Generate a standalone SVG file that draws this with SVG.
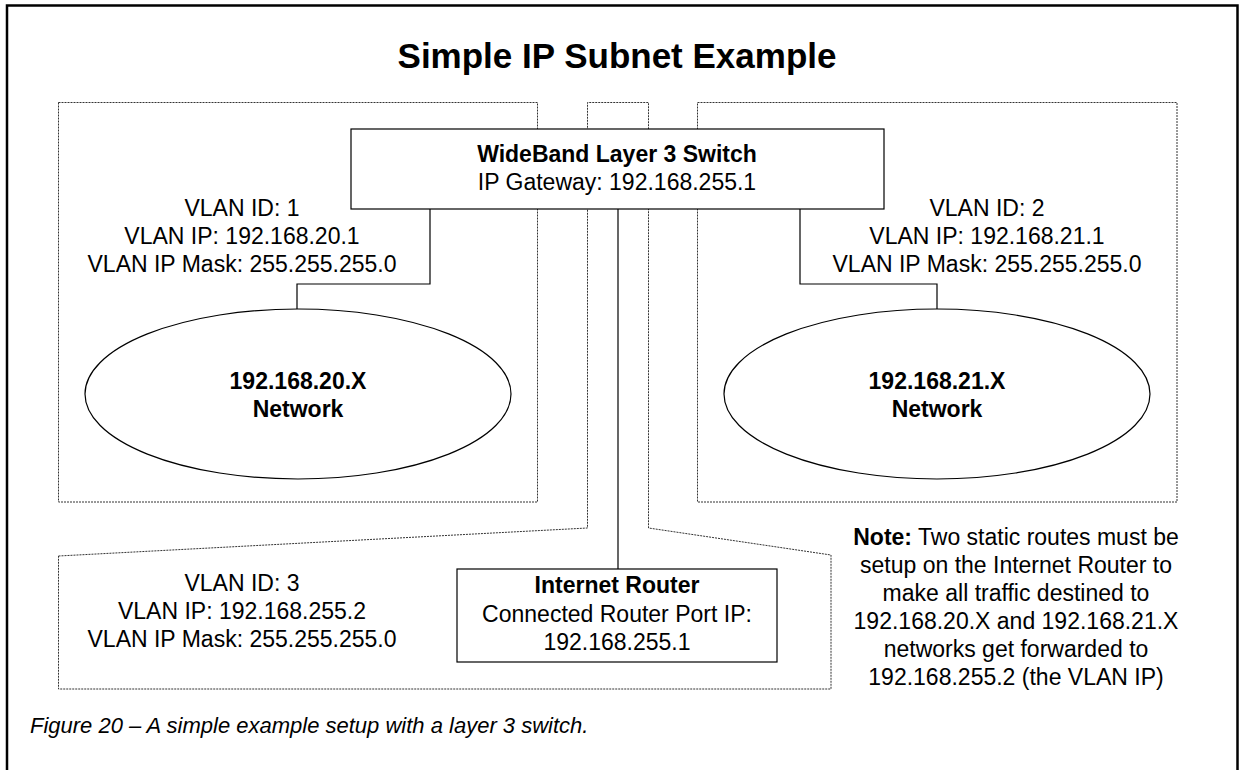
<svg xmlns="http://www.w3.org/2000/svg" width="1239" height="770" viewBox="0 0 1239 770">
<style>
.t{font-family:"Liberation Sans",Arial,sans-serif;font-size:23px;fill:#000;text-anchor:middle}
.b{font-weight:bold}
.title{font-family:"Liberation Sans",Arial,sans-serif;font-size:35px;font-weight:bold;text-anchor:middle}
.cap{font-family:"Liberation Sans",Arial,sans-serif;font-size:22px;font-style:italic}
.dot{fill:none;stroke:#333;stroke-width:1;stroke-dasharray:2 1}
.box{fill:#fff;stroke:#000;stroke-width:1.2}
.conn{fill:none;stroke:#000;stroke-width:1.2}
</style>
<rect x="0" y="0" width="1239" height="770" fill="#fff"/>
<path d="M7 790 V5.5 H1237.5 V790" fill="none" stroke="#000" stroke-width="2.5"/>
<text class="title" x="617" y="68">Simple IP Subnet Example</text>

<g id="vlan1-region">
<rect class="dot" x="58.5" y="102.5" width="479" height="399.5"/>
</g>
<g id="vlan2-region">
<rect class="dot" x="697.5" y="102.5" width="479.5" height="399.5"/>
</g>
<g id="vlan3-region">
<path class="dot" d="M58.5 556 L587.5 528 V102.5 H648.5 V528 L831 555 V689 H58.5 Z"/>
</g>

<g id="connectors">
<path class="conn" d="M430 209 V284 H297 V309"/>
<path class="conn" d="M800 209 V284 H937 V309"/>
<path class="conn" d="M618 209 V569"/>
</g>

<g id="switch">
<rect class="box" x="351" y="129" width="533" height="80"/>
<text class="t b" x="617" y="162">WideBand Layer 3 Switch</text>
<text class="t" x="617" y="190">IP Gateway: 192.168.255.1</text>
</g>

<g id="vlan1-label">
<text class="t" x="242" y="216">VLAN ID: 1</text>
<text class="t" x="242" y="244">VLAN IP: 192.168.20.1</text>
<text class="t" x="242" y="272">VLAN IP Mask: 255.255.255.0</text>
</g>
<g id="vlan2-label">
<text class="t" x="987" y="216">VLAN ID: 2</text>
<text class="t" x="987" y="244">VLAN IP: 192.168.21.1</text>
<text class="t" x="987" y="272">VLAN IP Mask: 255.255.255.0</text>
</g>

<g id="net20">
<ellipse cx="298" cy="394" rx="213" ry="85" fill="#fff" stroke="#000" stroke-width="1.2"/>
<text class="t b" x="298" y="389">192.168.20.X</text>
<text class="t b" x="298" y="417">Network</text>
</g>
<g id="net21">
<ellipse cx="937" cy="394" rx="213" ry="85" fill="#fff" stroke="#000" stroke-width="1.2"/>
<text class="t b" x="937" y="389">192.168.21.X</text>
<text class="t b" x="937" y="417">Network</text>
</g>

<g id="vlan3-label">
<text class="t" x="242" y="591">VLAN ID: 3</text>
<text class="t" x="242" y="619">VLAN IP: 192.168.255.2</text>
<text class="t" x="242" y="647">VLAN IP Mask: 255.255.255.0</text>
</g>

<g id="router">
<rect class="box" x="457" y="569" width="320" height="93"/>
<text class="t b" x="617" y="593">Internet Router</text>
<text class="t" x="617" y="622">Connected Router Port IP:</text>
<text class="t" x="617" y="650">192.168.255.1</text>
</g>

<g id="note">
<text class="t" x="1016" y="545"><tspan class="b">Note:</tspan> Two static routes must be</text>
<text class="t" x="1016" y="573">setup on the Internet Router to</text>
<text class="t" x="1016" y="601">make all traffic destined to</text>
<text class="t" x="1016" y="629">192.168.20.X and 192.168.21.X</text>
<text class="t" x="1016" y="657">networks get forwarded to</text>
<text class="t" x="1016" y="685">192.168.255.2 (the VLAN IP)</text>
</g>

<text class="cap" x="30" y="733">Figure 20 – A simple example setup with a layer 3 switch.</text>
</svg>
